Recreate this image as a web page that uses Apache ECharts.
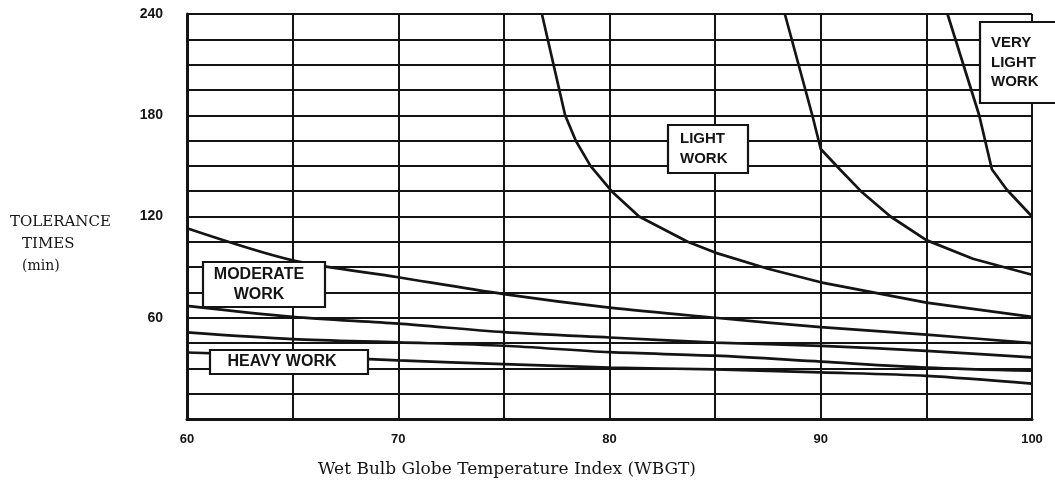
<!DOCTYPE html>
<html>
<head>
<meta charset="utf-8">
<script src="https://cdn.jsdelivr.net/npm/echarts@6/dist/echarts.min.js"></script>
<style>
  html, body { margin: 0; padding: 0; background: #fff; }
  #chart { width: 1055px; height: 489px; }
</style>
</head>
<body>
<div id="chart"></div>
<script>
// ---- data ----
const xTickLabels = [60, 70, 80, 90, 100];
const yTickLabels = [60, 120, 180, 240];

const veryLightWork = [[96.0, 240], [97.5, 180], [98.1, 148], [98.8, 136], [100, 120]];
const lightWorkA = [[88.3, 240], [89.6, 180], [90.0, 160], [90.9, 148], [91.9, 135], [93.3, 120], [95, 106], [97.2, 95], [100, 85.5]];
const lightWorkB = [[76.8, 240], [77.9, 180], [78.4, 165], [79.1, 150], [80.1, 135], [81.4, 120], [83.7, 105], [85, 98.6], [87.5, 89], [90, 81], [95, 69], [100, 60.5]];
const moderateA = [[60, 113], [65, 94], [70, 84], [75, 74], [80, 66], [85, 60], [90, 54.5], [95, 50], [100, 45]];
const moderateB = [[60, 67], [65, 60.5], [70, 56.5], [75, 51.5], [80, 48.3], [85, 45.3], [90, 43.3], [95, 40.4], [100, 36.5]];
const heavyA = [[60, 51.3], [65, 47.3], [70, 45.4], [75, 43.4], [80, 39.6], [85, 37.5], [90, 34], [95, 30.5], [100, 28.6]];
const heavyB = [[60, 39.4], [65, 37.4], [70, 34.7], [75, 32.5], [80, 30.5], [85, 29.4], [90, 27.6], [95, 25.6], [100, 21]];

const steepCurves = [veryLightWork, lightWorkA, lightWorkB];
const flatCurves = [moderateA, moderateB, heavyA, heavyB];

// ---- chart ----
const chart = echarts.init(document.getElementById('chart'), null, { renderer: 'canvas' });
const ink = '#141414';
const sansBold = "'Liberation Sans Narrow', 'Liberation Sans', Arial, sans-serif";
const serif = "'DejaVu Serif', 'Liberation Serif', serif";

function boxLabel(x, y, w, h, lines, fontSize, align, textX) {
  return {
    type: 'group', z: 100,
    children: [
      { type: 'rect', z: 100, shape: { x: x, y: y, width: w, height: h },
        style: { fill: '#fff', stroke: ink, lineWidth: 2.2 } },
      { type: 'text', z: 101, x: textX, y: y + h / 2,
        style: { text: lines.join('\n'), fill: ink, font: 'bold ' + fontSize + 'px ' + sansBold,
                 align: align, verticalAlign: 'middle', lineHeight: fontSize + 4.5 } }
    ]
  };
}

function lineSeries(d, smooth) {
  return {
    type: 'line', data: d, symbol: 'none', smooth: smooth,
    lineStyle: { color: ink, width: 2.7 }, z: 5, silent: true
  };
}

const option = {
  backgroundColor: '#fff',
  animation: false,
  grid: { left: 187, right: 23, top: 14, bottom: 70, containLabel: false },
  xAxis: {
    type: 'value', min: 60, max: 100, interval: 5,
    axisLine: { show: true, lineStyle: { color: ink, width: 3 } },
    axisTick: { show: false },
    splitLine: { show: true, lineStyle: { color: ink, width: 2 } },
    axisLabel: {
      margin: 14, color: ink, fontSize: 13, fontWeight: 'bold', fontFamily: sansBold,
      formatter: v => xTickLabels.includes(v) ? String(v) : ''
    }
  },
  yAxis: {
    type: 'value', min: 0, max: 240, interval: 15,
    axisLine: { show: true, lineStyle: { color: ink, width: 3 } },
    axisTick: { show: false },
    splitLine: { show: true, lineStyle: { color: ink, width: 2 } },
    axisLabel: {
      margin: 24, color: ink, fontSize: 14, fontWeight: 'bold', fontFamily: sansBold,
      formatter: v => yTickLabels.includes(v) ? String(v) : ''
    }
  },
  series: steepCurves.map(d => lineSeries(d, false)).concat(flatCurves.map(d => lineSeries(d, 0.3))),
  graphic: [
    boxLabel(980, 22, 85, 81, ['VERY', 'LIGHT', 'WORK'], 15, 'left', 991),
    boxLabel(668, 125, 80, 48, ['LIGHT', 'WORK'], 15, 'left', 680),
    boxLabel(203, 262, 122, 45, ['MODERATE', 'WORK'], 16, 'center', 259),
    boxLabel(210, 350, 158, 24, ['HEAVY WORK'], 16, 'center', 282),
    { type: 'text', z: 100, left: 10, top: 215,
      style: { text: 'TOLERANCE', fill: ink, font: '15px ' + serif } },
    { type: 'text', z: 100, left: 22, top: 237,
      style: { text: 'TIMES', fill: ink, font: '15px ' + serif } },
    { type: 'text', z: 100, left: 22, top: 259,
      style: { text: '(min)', fill: ink, font: '14px ' + serif } },
    { type: 'text', z: 100, x: 507, y: 470,
      style: { text: 'Wet Bulb Globe Temperature Index (WBGT)', fill: ink, font: '17px ' + serif,
               align: 'center', verticalAlign: 'middle' } }
  ]
};
chart.setOption(option);
</script>
</body>
</html>
